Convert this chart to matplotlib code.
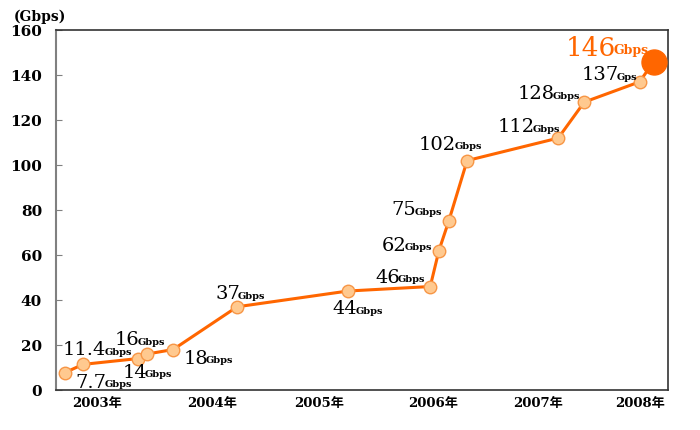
import matplotlib
matplotlib.use("Agg")
from matplotlib import pyplot as plt

# time (decimal year) and bandwidth (Gbps)
t = [2002.70, 2002.87, 2003.38, 2003.46, 2003.70, 2004.29, 2005.31,
     2006.07, 2006.15, 2006.24, 2006.41, 2007.25, 2007.49, 2008.00, 2008.13]
gbps = [7.7, 11.4, 14, 16, 18, 37, 44, 46, 62, 75, 102, 112, 128, 137, 146]
nums = ['7.7', '11.4', '14', '16', '18', '37', '44', '46', '62', '75',
        '102', '112', '128', '137', '146']
units = ['Gbps'] * 13 + ['Gps', 'Gbps']

year_pos = [2003.0, 2004.06, 2005.05, 2006.10, 2007.06, 2008.0]
year_labels = ['2003年', '2004年', '2005年', '2006年', '2007年', '2008年']

# label offsets in pixels (left edge / baseline relative to marker)
offs = [(11, -15), (-20, 9), (-16, -19), (-32, 9), (10, -14), (-22, 8),
        (-15, -23), (-55, 4), (-57, 0), (-57, 6), (-48, 11), (-61, 6),
        (-67, 3), (-58, 2), (-88, 6)]

orange = '#FF6600'
light = '#FFC98F'
serif = ['DejaVu Serif', 'Noto Sans CJK JP']

fig = plt.figure(figsize=(7, 4.3), dpi=100)
ax = fig.add_axes([0.08, 0.093, 0.874, 0.837])

ax.plot(t, gbps, color=orange, lw=2.2, zorder=2)
ax.plot(t[:-1], gbps[:-1], 'o', ms=9, mfc=light, mec='#F79646', mew=1, zorder=3)
ax.plot(t[-1:], gbps[-1:], 'o', ms=18, mfc=orange, mec=orange, zorder=3)

for i in range(len(t)):
    last = i == len(t) - 1
    col = orange if last else 'black'
    big = 19 if last else 14
    small = 9 if last else 7
    txt = ax.annotate(nums[i], (t[i], gbps[i]), xytext=offs[i],
                      textcoords='offset pixels', ha='left', va='baseline',
                      fontsize=big, color=col, family=serif, zorder=4)
    ax.annotate(units[i], (1, 0), xycoords=txt, xytext=(-1.5, big * 0.23 - small * 0.23),
                textcoords='offset points', ha='left', va='bottom',
                fontsize=small, fontweight='bold', color=col, family=serif)

ax.set_xlim(2002.62, 2008.26)
ax.set_ylim(0, 160)
ax.set_yticks(range(0, 161, 20))
ax.set_xticks(year_pos)
ax.set_xticklabels(year_labels)
ax.tick_params(axis='y', direction='in', length=4, pad=10, color='#808080')
ax.tick_params(axis='x', length=0, pad=5)
for lab in ax.get_yticklabels():
    lab.set_family(serif)
    lab.set_fontweight('bold')
    lab.set_fontsize(11)
for lab in ax.get_xticklabels():
    lab.set_family(serif)
    lab.set_fontweight('bold')
    lab.set_fontsize(9.5)

ax.spines['left'].set_color('#808080')
ax.spines['left'].set_linewidth(1.5)
for s in ['top', 'right', 'bottom']:
    ax.spines[s].set_color('#333333')
    ax.spines[s].set_linewidth(1.2)

fig.text(0.02, 0.962, '(Gbps)', fontsize=10, fontweight='bold', family=serif,
         va='center', ha='left')

fig.savefig('out.png', dpi=100, facecolor='white')
